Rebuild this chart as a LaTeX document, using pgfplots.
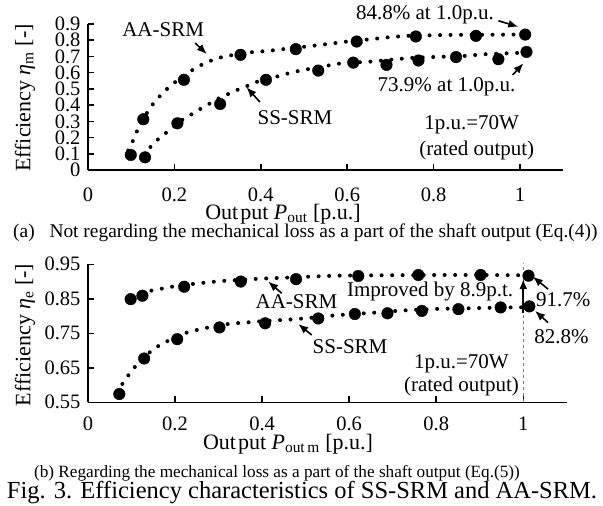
\documentclass[border=0pt]{standalone}
\usepackage{fontspec}
\setmainfont{Liberation Serif}
\usepackage{pgfplots}
\pgfplotsset{compat=1.18}
\usetikzlibrary{arrows.meta}
\newcommand{\fa}{\fontsize{20.5}{22}\selectfont}
\newcommand{\fb}{\fontsize{21}{23}\selectfont}
\newcommand{\fc}{\fontsize{22}{24}\selectfont}
\tikzset{arr/.style={-{Latex[length=10pt,width=8pt]}, line width=1.6pt}}
\pgfplotsset{
  myaxis/.style={
    scale only axis, clip=false,
    axis x line*=bottom, axis y line*=left,
    axis line style={line width=1.5pt,-},
    tick style={line width=1.5pt,black},
    tick align=inside, major tick length=6pt,
    /pgf/number format/assume math mode=true,
    tick label style={font=\fa},
    xmin=0, xmax=1.1,
    xtick={0,0.2,0.4,0.6,0.8,1},
  },
  bigdot/.style={only marks, mark=*, mark size=5.8pt, black},
  trend/.style={black, line width=4pt, dash pattern=on 0pt off 10.5pt, line cap=round, smooth, no marks},
}
\begin{document}
\begin{tikzpicture}
\path[use as bounding box] (0,0) rectangle (603pt,-506pt);
% ---------- (a) ----------
\begin{axis}[myaxis, at={(88pt,-170pt)}, anchor=south west,
  width=475.2pt, height=146pt, ymin=0, ymax=0.9,
  ytick={0,0.1,0.2,0.3,0.4,0.5,0.6,0.7,0.8,0.9},
  yticklabel style={xshift=-4pt}, xticklabel style={yshift=-14pt}]
\addplot[trend] coordinates {(0.093,0.12)(0.10,0.16)(0.107,0.196)(0.117,0.261)(0.13,0.32)(0.143,0.381)(0.16,0.436)(0.178,0.488)(0.196,0.529)(0.215,0.57)(0.235,0.605)(0.255,0.638)(0.277,0.665)(0.298,0.688)(0.325,0.704)(0.35,0.716)(0.375,0.725)(0.402,0.731)(0.425,0.737)(0.452,0.745)(0.505,0.761)(0.553,0.776)(0.6,0.792)(0.657,0.807)(0.707,0.821)(0.75,0.828)(0.85,0.833)(0.95,0.834)(1.02,0.836)};
\addplot[trend] coordinates {(0.13,0.09)(0.147,0.150)(0.165,0.196)(0.186,0.240)(0.205,0.28)(0.221,0.315)(0.244,0.350)(0.263,0.381)(0.282,0.410)(0.30,0.438)(0.322,0.465)(0.344,0.492)(0.365,0.514)(0.387,0.540)(0.41,0.558)(0.437,0.576)(0.460,0.593)(0.483,0.608)(0.506,0.620)(0.53,0.632)(0.556,0.644)(0.579,0.655)(0.62,0.663)(0.659,0.669)(0.713,0.683)(0.738,0.689)(0.792,0.696)(0.819,0.698)(0.877,0.704)(0.900,0.710)(0.921,0.714)(0.977,0.72)(1.02,0.725)};
\addplot[bigdot] coordinates {(0.099,0.093)(0.128,0.313)(0.222,0.556)(0.353,0.710)(0.481,0.745)(0.622,0.792)(0.759,0.823)(0.898,0.827)(1.012,0.835)};
\addplot[bigdot] coordinates {(0.132,0.078)(0.207,0.288)(0.306,0.407)(0.412,0.556)(0.533,0.613)(0.614,0.662)(0.691,0.648)(0.765,0.675)(0.852,0.696)(0.950,0.683)(1.015,0.728)};
\node[font=\fb] at (axis cs:0.174,0.863) {AA-SRM};
\draw[arr] (axis cs:0.248,0.783) -- (axis cs:0.275,0.715);
\node[font=\fb] at (axis cs:0.479,0.321) {SS-SRM};
\draw[arr] (axis cs:0.398,0.419) -- (axis cs:0.367,0.510);
\node[font=\fb] at (axis cs:0.780,0.956) {84.8\% at 1.0p.u.};
\draw[arr] (axis cs:0.950,0.920) -- (axis cs:0.996,0.883);
\node[font=\fb] at (axis cs:0.830,0.514) {73.9\% at 1.0p.u.};
\draw[arr] (axis cs:0.983,0.586) -- (axis cs:1.008,0.658);
\node[font=\fb] at (axis cs:0.888,0.277) {1p.u.=70W};
\node[font=\fb] at (axis cs:0.900,0.123) {(rated output)};
\end{axis}
% ---------- (b) ----------
\begin{axis}[myaxis, at={(88pt,-402.3pt)}, anchor=south west,
  width=478.8pt, height=138pt, ymin=0.55, ymax=0.95,
  ytick={0.55,0.65,0.75,0.85,0.95},
  yticklabel style={xshift=-4pt}, xticklabel style={yshift=-11pt}]
\draw[gray, dashed, line width=0.8pt] (axis cs:1,0.55) -- (axis cs:1,0.955);
\addplot[trend] coordinates {(0.10,0.855)(0.12,0.864)(0.139,0.872)(0.164,0.878)(0.188,0.884)(0.234,0.892)(0.261,0.896)(0.286,0.899)(0.312,0.902)(0.391,0.908)(0.45,0.911)(0.525,0.915)(0.573,0.917)(0.65,0.918)(0.8,0.919)(0.9,0.919)(1.02,0.918)};
\addplot[trend] coordinates {(0.07,0.575)(0.08,0.606)(0.095,0.632)(0.110,0.656)(0.127,0.679)(0.145,0.698)(0.164,0.715)(0.187,0.730)(0.207,0.742)(0.227,0.752)(0.248,0.759)(0.273,0.766)(0.3,0.772)(0.322,0.777)(0.348,0.780)(0.37,0.782)(0.40,0.785)(0.426,0.787)(0.45,0.789)(0.476,0.791)(0.504,0.794)(0.552,0.80)(0.577,0.803)(0.659,0.810)(0.709,0.815)(0.734,0.817)(0.79,0.82)(0.81,0.821)(0.893,0.823)(0.973,0.825)(1.02,0.826)};
\addplot[bigdot] coordinates {(0.098,0.849)(0.125,0.859)(0.221,0.885)(0.351,0.900)(0.478,0.907)(0.621,0.916)(0.759,0.919)(0.902,0.919)(1.012,0.917)};
\addplot[bigdot] coordinates {(0.072,0.574)(0.129,0.677)(0.205,0.733)(0.302,0.767)(0.407,0.779)(0.529,0.793)(0.613,0.806)(0.688,0.808)(0.767,0.815)(0.851,0.820)(0.948,0.825)(1.014,0.828)};
\node[font=\fb] at (axis cs:0.479,0.841) {AA-SRM};
\draw[arr] (axis cs:0.445,0.866) -- (axis cs:0.414,0.900);
\node[font=\fb] at (axis cs:0.602,0.711) {SS-SRM};
\draw[arr] (axis cs:0.514,0.745) -- (axis cs:0.483,0.777);
\node[font=\fb] at (axis cs:0.786,0.871) {Improved by 8.9p.t.};
\draw[arr] (axis cs:1.0,0.808) -- (axis cs:1.0,0.907);
\node[font=\fb] at (axis cs:1.092,0.847) {91.7\%};
\draw[arr] (axis cs:1.057,0.878) -- (axis cs:1.022,0.914);
\node[font=\fb] at (axis cs:1.088,0.740) {82.8\%};
\draw[arr] (axis cs:1.057,0.781) -- (axis cs:1.027,0.815);
\node[font=\fb] at (axis cs:0.858,0.663) {1p.u.=70W};
\node[font=\fb] at (axis cs:0.858,0.595) {(rated output)};
\end{axis}
% ---------- labels ----------
\node[font=\fc, rotate=90] at (25pt,-98pt) {Efficiency \textit{η}\textsubscript{m} [-]};
\node[font=\fc] at (283pt,-214pt) {Out\kern2pt put \textit{P}\textsubscript{out} [p.u.]};
\node[font=\fontsize{19.4}{21}\selectfont] at (24pt,-233pt) {(a)};
\node[font=\fontsize{19.4}{21}\selectfont, anchor=west] at (46pt,-233pt) {Not regarding the mechanical loss as a part of the shaft output (Eq.(4))};
\node[font=\fc, rotate=90] at (25pt,-335pt) {Efficiency \textit{η}\textsubscript{e} [-]};
\node[font=\fc] at (288pt,-444pt) {Out\kern2pt put \textit{P}\textsubscript{out\,m} [p.u.]};
\node[font=\fontsize{17.2}{19}\selectfont] at (277pt,-473pt) {(b) Regarding the mechanical loss as a part of the shaft output (Eq.(5))};
\node[font=\fontsize{24.5}{26}\selectfont] at (302pt,-493pt) {Fig. 3. Efficiency characteristics of SS-SRM and AA-SRM.};
\end{tikzpicture}
\end{document}
